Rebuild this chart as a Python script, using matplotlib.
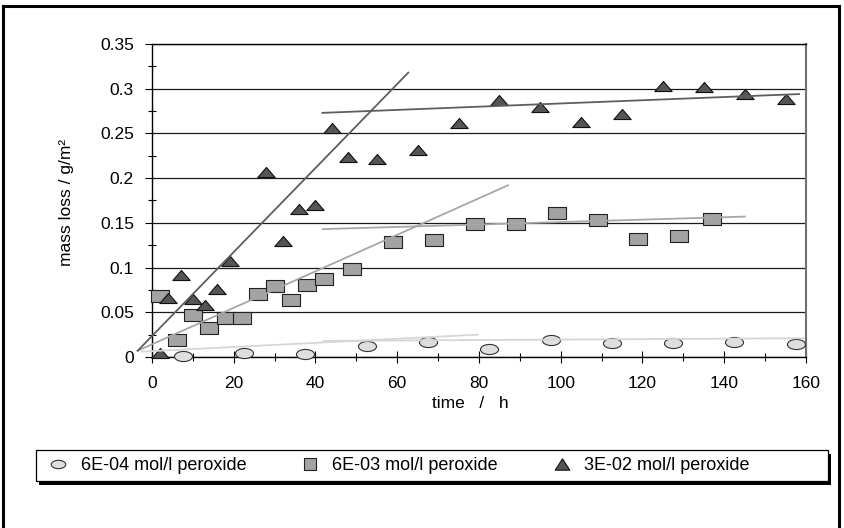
import matplotlib
matplotlib.use('Agg')
import matplotlib.pyplot as plt
import numpy as np
from matplotlib.path import Path
from matplotlib.lines import Line2D
from matplotlib.patches import Rectangle
from matplotlib.ticker import MultipleLocator

plt.rcParams['font.family'] = ['Liberation Sans', 'DejaVu Sans']

# ---------------- data ----------------
series_labels = ['6E-04 mol/l peroxide', '6E-03 mol/l peroxide', '3E-02 mol/l peroxide']

t_low = [7.5, 22.5, 37.5, 52.5, 67.5, 82.5, 97.5, 112.5, 127.5, 142.5, 157.5]
m_low = [0.001, 0.005, 0.003, 0.012, 0.017, 0.0095, 0.0195, 0.0155, 0.016, 0.0165, 0.015]

t_mid = [2, 6, 10, 14, 18, 22, 26, 30, 34, 38, 42, 49, 59, 69, 79, 89, 99, 109, 119, 129, 137]
m_mid = [0.068, 0.019, 0.047, 0.032, 0.044, 0.044, 0.070, 0.079, 0.064, 0.081, 0.087, 0.098,
         0.129, 0.131, 0.149, 0.149, 0.161, 0.153, 0.132, 0.135, 0.154]

t_high = [2, 4, 7, 10, 13, 16, 19, 28, 32, 36, 40, 44, 48, 55, 65, 75, 85, 95, 105, 115,
          125, 135, 145, 155]
m_high = [0.005, 0.066, 0.092, 0.065, 0.058, 0.076, 0.107, 0.207, 0.130, 0.165, 0.170, 0.256,
          0.224, 0.221, 0.231, 0.262, 0.287, 0.279, 0.263, 0.272, 0.303, 0.302, 0.294, 0.288]

# trend lines (end points)
fit_low_initial_t = [-2.5, 79.7]
fit_low_initial_m = [0.006, 0.025]
fit_low_plateau_t = [42.0, 159.5]
fit_low_plateau_m = [0.018, 0.021]
fit_mid_initial_t = [-3.5, 87.1]
fit_mid_initial_m = [0.007, 0.192]
fit_mid_plateau_t = [41.8, 145.0]
fit_mid_plateau_m = [0.143, 0.157]
fit_high_initial_t = [-3.5, 62.7]
fit_high_initial_m = [0.007, 0.318]
fit_high_plateau_t = [41.7, 158.3]
fit_high_plateau_m = [0.273, 0.294]

x_ticks = [0, 20, 40, 60, 80, 100, 120, 140, 160]
x_tick_labels = ['0', '20', '40', '60', '80', '100', '120', '140', '160']
y_ticks = [0, 0.05, 0.1, 0.15, 0.2, 0.25, 0.3, 0.35]
y_tick_labels = ['0', '0.05', '0.1', '0.15', '0.2', '0.25', '0.3', '0.35']

# ---------------- markers ----------------
def poly_marker(verts):
    verts = list(verts) + [verts[0]]
    codes = [Path.MOVETO] + [Path.LINETO] * (len(verts) - 2) + [Path.CLOSEPOLY]
    return Path(verts, codes)

def ellipse_marker(ratio):
    c = Path.unit_circle()
    return Path(c.vertices * np.array([1.0, ratio]), c.codes)

tri_m = poly_marker([(-1, -0.58), (1, -0.58), (0, 0.58)])
rect_m = poly_marker([(-1, -0.61), (1, -0.61), (1, 0.61), (-1, 0.61)])
ell_m = ellipse_marker(0.56)

tri_leg = poly_marker([(-1, -0.78), (1, -0.78), (0, 0.78)])
rect_leg = poly_marker([(-1, -1), (1, -1), (1, 1), (-1, 1)])
ell_leg = ellipse_marker(0.57)

c_low, c_mid, c_high = '#dedede', '#a3a3a3', '#555555'
l_low, l_mid, l_high = '#d6d6d6', '#a6a6a6', '#5e5e5e'

# ---------------- figure ----------------
fig = plt.figure(figsize=(8.45, 5.28), dpi=100)
ax = fig.add_axes([152 / 845, 1 - 357 / 528, 654 / 845, 313 / 528])

ax.set_xlim(0, 160)
ax.set_ylim(0, 0.35)

ax.yaxis.grid(True, which='major', color='#1a1a1a', lw=0.9, zorder=0)
ax.set_axisbelow(True)

ax.plot(t_low, m_low, ls='none', marker=ell_m, ms=13, mfc=c_low, mec='#333333', mew=0.8,
        clip_on=False, zorder=3)
ax.plot(t_mid, m_mid, ls='none', marker=rect_m, ms=13, mfc=c_mid, mec='#222222', mew=0.8,
        clip_on=False, zorder=3)
ax.plot(t_high, m_high, ls='none', marker=tri_m, ms=12.5, mfc=c_high, mec='#111111', mew=0.8,
        clip_on=False, zorder=3)

for tx, my, col in [(fit_low_initial_t, fit_low_initial_m, l_low),
                    (fit_low_plateau_t, fit_low_plateau_m, l_low),
                    (fit_mid_initial_t, fit_mid_initial_m, l_mid),
                    (fit_mid_plateau_t, fit_mid_plateau_m, l_mid),
                    (fit_high_initial_t, fit_high_initial_m, l_high),
                    (fit_high_plateau_t, fit_high_plateau_m, l_high)]:
    ax.plot(tx, my, color=col, lw=1.3, clip_on=False, zorder=4)

ax.set_xticks(x_ticks)
ax.set_xticklabels(x_tick_labels)
ax.set_yticks(y_ticks)
ax.set_yticklabels(y_tick_labels)
ax.xaxis.set_minor_locator(MultipleLocator(10))
ax.yaxis.set_minor_locator(MultipleLocator(0.025))

ax.tick_params(axis='x', which='major', direction='inout', length=8.5, width=0.8,
               pad=9.5, labelsize=12.5, colors='black')
ax.tick_params(axis='x', which='minor', direction='inout', length=5.5, width=0.8)
ax.tick_params(axis='y', which='major', direction='out', length=5, width=0.8,
               pad=8, labelsize=12.5)
ax.tick_params(axis='y', which='minor', direction='inout', length=5.5, width=0.8)

for s in ['left', 'bottom', 'top']:
    ax.spines[s].set_color('black')
    ax.spines[s].set_linewidth(1.0)
ax.spines['right'].set_color('#707070')
ax.spines['right'].set_linewidth(1.5)

ax.set_xlabel('time   /   h', fontsize=12.5, va='center')
ax.xaxis.set_label_coords(0.486, -0.147)
ax.set_ylabel('mass loss / g/m²', fontsize=12.5, va='center')
ax.yaxis.set_label_coords(-0.130, 0.495)

# ---------------- legend ----------------
box_x0, box_x1 = 36 / 845, 828 / 845
box_y0, box_y1 = 1 - 481 / 528, 1 - 450 / 528
fig.add_artist(Rectangle((box_x0 + 3 / 845, box_y0 - 4 / 528), box_x1 - box_x0, box_y1 - box_y0,
                         transform=fig.transFigure, fc='black', ec='black', lw=0, zorder=1))
fig.add_artist(Rectangle((box_x0, box_y0), box_x1 - box_x0, box_y1 - box_y0,
                         transform=fig.transFigure, fc='white', ec='black', lw=0.9, zorder=2))

handles = [
    Line2D([], [], ls='none', marker=ell_leg, ms=10.5, mfc=c_low, mec='#333333', mew=0.8),
    Line2D([], [], ls='none', marker=rect_leg, ms=9, mfc=c_mid, mec='#222222', mew=0.8),
    Line2D([], [], ls='none', marker=tri_leg, ms=10.5, mfc=c_high, mec='#111111', mew=0.8),
]
leg = fig.legend(handles, series_labels, loc='center left',
                 bbox_to_anchor=(box_x0, 1 - 465.5 / 528), ncol=3, frameon=False,
                 fontsize=13, handlelength=1.87, handletextpad=0.3, columnspacing=2.6,
                 borderpad=0.3, borderaxespad=0, numpoints=1)
leg.set_zorder(5)

# ---------------- outer frame ----------------
fl = 2.2
fig.add_artist(Line2D([3 / 845, 3 / 845], [0, 1 - 6 / 528], transform=fig.transFigure,
                      color='black', lw=fl))
fig.add_artist(Line2D([3 / 845, 839 / 845], [1 - 6 / 528, 1 - 6 / 528], transform=fig.transFigure,
                      color='black', lw=fl))
fig.add_artist(Line2D([839 / 845, 839 / 845], [0, 1 - 6 / 528], transform=fig.transFigure,
                      color='black', lw=fl))

fig.savefig('out.png', dpi=100)
